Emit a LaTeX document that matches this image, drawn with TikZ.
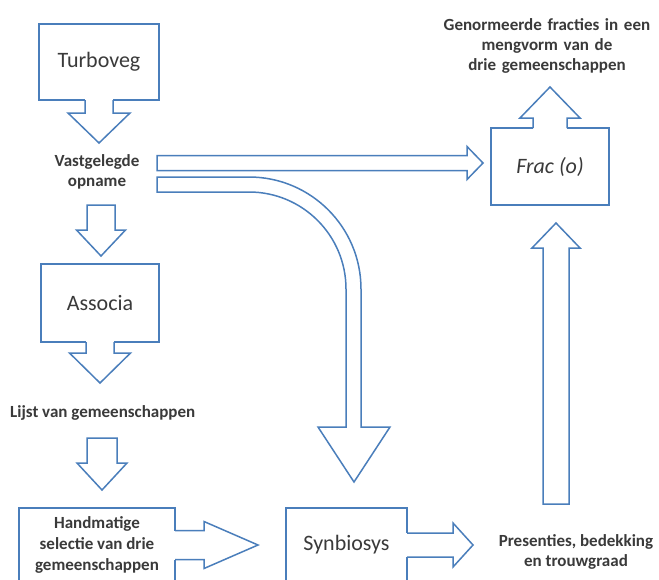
\documentclass[tikz,border=0pt]{standalone}
\usepackage{fontspec}
\setmainfont{Carlito}
\usetikzlibrary{calc}

\definecolor{arrowblue}{HTML}{4A7EBB}
\definecolor{textgrey}{HTML}{3A3A3A}

\tikzset{
  blockline/.style={draw=arrowblue, line width=1.5pt},
  progbox/.style={draw=arrowblue, line width=1.5pt, fill=white, outer sep=0pt,
    inner sep=0pt, text=textgrey, font=\fontsize{22}{26}\selectfont},
  smalltext/.style={text=textgrey, align=center, inner sep=0pt,
    font=\bfseries\fontsize{17}{20}\selectfont},
}

% block arrow: tail, tip, stem half width, head half width, head length
\newcommand{\blockarrow}[5]{%
  \path ($(#2)!#5!(#1)$) coordinate (hb);
  \draw[blockline] ($(#1)!#3!90:(#2)$) -- ($(hb)!#3!90:(#2)$) -- ($(hb)!#4!90:(#2)$) -- (#2)
    -- ($(hb)!#4!-90:(#2)$) -- ($(hb)!#3!-90:(#2)$) -- ($(#1)!#3!-90:(#2)$) -- cycle;
}
% same, but open into the box it comes out of
\newcommand{\calloutarrow}[5]{%
  \path ($(#2)!#5!(#1)$) coordinate (hb) ($(#1)!-1pt!(#2)$) coordinate (tin);
  \fill[white] ($(tin)!#3!90:(#2)$) rectangle ($(hb)!#3!-90:(#2)$);
  \draw[blockline] ($(#1)!#3!90:(#2)$) -- ($(hb)!#3!90:(#2)$) -- ($(hb)!#4!90:(#2)$) -- (#2)
    -- ($(hb)!#4!-90:(#2)$) -- ($(hb)!#3!-90:(#2)$) -- ($(#1)!#3!-90:(#2)$);
}

\begin{document}
\begin{tikzpicture}[x=1pt, y=-1pt]
  \useasboundingbox (0,0) rectangle (659,579);
  \fill[white] (0,0) rectangle (659,579);

  % boxes
  \node[progbox, minimum width=120pt, minimum height=76pt] (turboveg) at (99,62) {Turboveg};
  \node[progbox, minimum width=118pt, minimum height=78pt] (associa) at (100,303) {Associa};
  \node[progbox, minimum width=118pt, minimum height=77pt, font=\itshape\fontsize{22}{26}\selectfont] (frac) at (550,166.5) {Frac (o)};
  \node[progbox, minimum width=156pt, minimum height=74pt, align=center,
    font=\bfseries\fontsize{17}{21}\selectfont] (handmatig) at (97,545) {Handmatige\\selectie van drie\\gemeenschappen};
  \node[progbox, minimum width=121pt, minimum height=74pt] (synbiosys) at (346.5,545) {Synbiosys};

  % labels
  \node[smalltext] (opname) at (97,172) {Vastgelegde\\opname};
  \node[smalltext, anchor=west] (lijst) at (10,413) {Lijst van gemeenschappen};
  \node[smalltext, text width=230pt] (genormeerd) at (547,46) {Genormeerde fracties in een\\mengvorm van de\\drie gemeenschappen};
  \node[smalltext] (presenties) at (576,552) {Presenties, bedekking\\en trouwgraad};

  % free ends of the arrows
  \coordinate (tb tip) at (99,143);
  \coordinate (op tail) at (101,205);
  \coordinate (op tip) at (101,256);
  \coordinate (as tip) at (100,383);
  \coordinate (lj tail) at (102,438);
  \coordinate (lj tip) at (102,490);
  \coordinate (hm tip) at (258,545);
  \coordinate (sb tip) at (473,545);
  \coordinate (pr tail) at (556,504);
  \coordinate (pr tip) at (556,223);
  \coordinate (fr tip) at (550,87);
  \coordinate (vo tail) at (157,163);
  \coordinate (vo tip) at (483,163);

  % arrows
  \calloutarrow{turboveg.south}{tb tip}{14pt}{31pt}{30pt}
  \blockarrow{op tail}{op tip}{14pt}{24.5pt}{26pt}
  \calloutarrow{associa.south}{as tip}{14pt}{30.5pt}{30pt}
  \blockarrow{lj tail}{lj tip}{15pt}{25pt}{27pt}
  \calloutarrow{handmatig.east}{hm tip}{14.5pt}{23.5pt}{54pt}
  \calloutarrow{synbiosys.east}{sb tip}{12pt}{22pt}{20pt}
  \blockarrow{pr tail}{pr tip}{13pt}{24pt}{25pt}
  \calloutarrow{frac.north}{fr tip}{17pt}{30pt}{31pt}
  \blockarrow{vo tail}{vo tip}{7.5pt}{16.5pt}{16pt}

  % bent arrow down to Synbiosys
  \draw[blockline] (157,177) -- (249,177) arc[start angle=-90, end angle=0, radius=112]
    -- (361,427) -- (390,427) -- (354,482) -- (318,427) -- (346,427) -- (346,289)
    arc[start angle=0, end angle=-90, radius=97] -- (157,192) -- cycle;
\end{tikzpicture}
\end{document}
